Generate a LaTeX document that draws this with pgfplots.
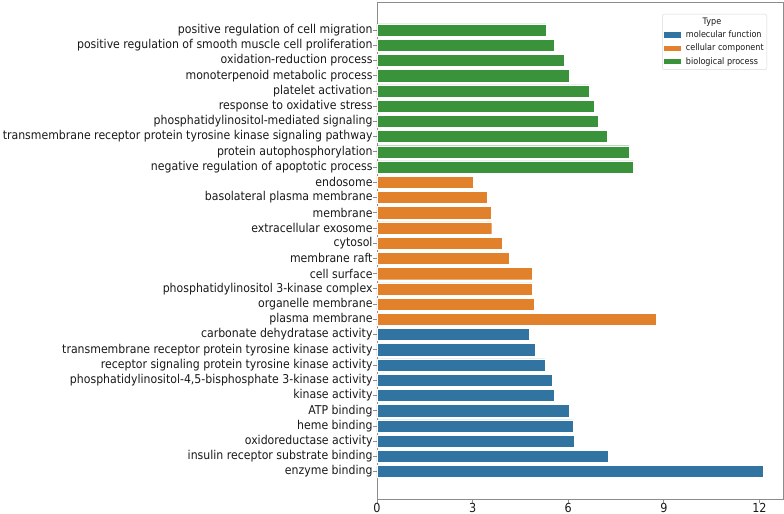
\documentclass[border=0pt]{standalone}
\usepackage{pgfplots}
\pgfplotsset{compat=1.18}
\usepackage{fontspec}
\setmainfont{DejaVu Sans}
\newfontfamily\labfont[FakeStretch=0.9]{DejaVu Sans}
\definecolor{cblue}{HTML}{3274A1}
\definecolor{corange}{HTML}{E1812C}
\definecolor{cgreen}{HTML}{3A923A}
\definecolor{spine}{HTML}{8C8C8C}
\begin{document}
\begin{tikzpicture}
\path[use as bounding box] (0,0) rectangle (784bp,514bp);
\begin{axis}[
 at={(377bp,15bp)}, anchor=south west,
 scale only axis, width=406bp, height=497bp,
 xmin=0, xmax=12.74, ymin=-1.8, ymax=30.84,
 xbar, bar width=0.8, bar shift=0pt,
 xtick={0,3,6,9,12},
 ytick={0,...,29},
 yticklabels={enzyme binding, insulin receptor substrate binding, oxidoreductase activity, heme binding, ATP binding, kinase activity, {phosphatidylinositol-4,5-bisphosphate 3-kinase activity}, receptor signaling protein tyrosine kinase activity, transmembrane receptor protein tyrosine kinase activity, carbonate dehydratase activity, plasma membrane, organelle membrane, phosphatidylinositol 3-kinase complex, cell surface, membrane raft, cytosol, extracellular exosome, membrane, basolateral plasma membrane, endosome, negative regulation of apoptotic process, protein autophosphorylation, transmembrane receptor protein tyrosine kinase signaling pathway, phosphatidylinositol-mediated signaling, response to oxidative stress, platelet activation, monoterpenoid metabolic process, oxidation-reduction process, positive regulation of smooth muscle cell proliferation, positive regulation of cell migration},
 tick align=outside, tick pos=left, major tick length=3.5bp,
 axis line style={spine, line width=0.8bp},
 tick style={spine, line width=0.8bp},
 /pgf/number format/assume math mode=true,
 yticklabel style={font=\labfont\fontsize{12.2}{13}\selectfont, text=black!90, inner sep=0.8bp},
 xticklabel style={font=\labfont\fontsize{12.5}{13}\selectfont, text=black!90, inner sep=0.5bp},
 legend style={at={(0.9606,0.976)}, anchor=north east, draw=black!15, rounded corners=2bp,
   font=\labfont\fontsize{9}{10}\selectfont, text=black!90, row sep=1.6bp, column sep=3.5bp,
   inner xsep=1.5bp, inner ysep=2.5bp, nodes={inner sep=1.6bp}},
 legend cell align=left,
 legend image code/.code={\fill[#1,draw=none,sharp corners] (0bp,-2.8bp) rectangle (17bp,2.8bp);},
]
\addlegendimage{empty legend}
\addlegendentry{\hspace*{26bp}\makebox[0pt][c]{Type}}
\addplot[fill=cblue, draw=white, line width=0.4bp] coordinates {
 (12.13,0) (7.27,1) (6.18,2) (6.17,3) (6.03,4) (5.56,5) (5.51,6) (5.27,7) (4.97,8) (4.78,9)};
\addlegendentry{molecular function}
\addplot[fill=corange, draw=white, line width=0.4bp] coordinates {
 (8.76,10) (4.94,11) (4.88,12) (4.87,13) (4.15,14) (3.93,15) (3.60,16) (3.57,17) (3.46,18) (3.01,19)};
\addlegendentry{cellular component}
\addplot[fill=cgreen, draw=white, line width=0.4bp] coordinates {
 (8.05,20) (7.90,21) (7.23,22) (6.93,23) (6.81,24) (6.67,25) (6.02,26) (5.86,27) (5.57,28) (5.31,29)};
\addlegendentry{biological process}
\end{axis}
\end{tikzpicture}
\end{document}
